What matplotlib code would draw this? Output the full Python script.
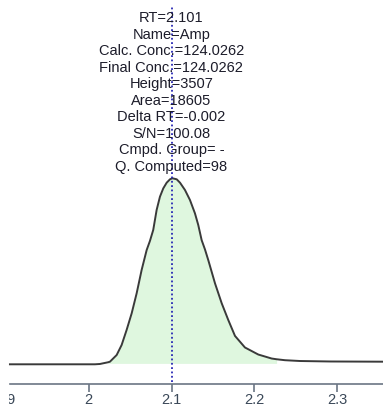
import matplotlib
matplotlib.use("Agg")
import matplotlib.pyplot as plt
from matplotlib.patches import Rectangle
import numpy as np

plt.rcParams['font.family'] = ['Liberation Sans', 'DejaVu Sans']

# Chromatogram trace: retention time (min) vs. intensity
rt_min = [1.9051, 2.0076, 2.0136, 2.0234, 2.0257, 2.0338, 2.0398, 2.0458,
          2.0519, 2.0579, 2.0639, 2.0700, 2.0739, 2.0779, 2.0820, 2.0860,
          2.0900, 2.0941, 2.0981, 2.1010, 2.1062, 2.1102, 2.1162, 2.1222,
          2.1282, 2.1322, 2.1363, 2.1403, 2.1443, 2.1524, 2.1605, 2.1684,
          2.1765, 2.1885, 2.2046, 2.2207, 2.2267, 2.2368, 2.2549, 2.2911,
          2.3550]
intensity = [0, 0, 6, 38, 49, 175, 364, 647,
             961, 1338, 1777, 2155, 2324, 2532, 2909, 3159,
             3316, 3423, 3487, 3507, 3487, 3423, 3285, 3097,
             2846, 2626, 2340, 2165, 1963, 1526, 1149, 835,
             535, 317, 184, 109, 95, 77, 62, 53,
             49]

# Integration window of the peak
peak_start = 2.0234
peak_end = 2.2267

# Peak annotation
peak_rt = 2.101
peak_info = [
    "RT=2.101",
    "Name=Amp",
    "Calc. Conc.=124.0262",
    "Final Conc.=124.0262",
    "Height=3507",
    "Area=18605",
    "Delta RT=-0.002",
    "S/N=100.08",
    "Cmpd. Group= -",
    "Q. Computed=98",
]

x_ticks = [1.9, 2.0, 2.1, 2.2, 2.3]
x_tick_labels = ["1.9", "2", "2.1", "2.2", "2.3"]

W, H = 383, 407
fig = plt.figure(figsize=(W / 100, H / 100), dpi=100)
ax_px_bottom = 383.5
ax = fig.add_axes([0, (H - ax_px_bottom) / H, 1, ax_px_bottom / H])

x = np.array(rt_min)
y = np.array(intensity)

mask = (x >= peak_start) & (x <= peak_end)
ax.fill_between(x[mask], 17, y[mask], color='#dff7df', linewidth=0, zorder=1)
ax.plot(x, y, color='#3a3a3a', lw=1.4, zorder=3, solid_joinstyle='round')

ax.axvline(peak_rt, ymin=0.004, ymax=0.982, color='#2828b4', lw=1.3,
           linestyle=(0, (1, 1.4)), zorder=4)

ax.set_xlim(1.8931, 2.3550)
ax.set_ylim(-362, 6867)

for s in ['top', 'right', 'left']:
    ax.spines[s].set_visible(False)
ax.spines['bottom'].set_color('#6b7684')
ax.spines['bottom'].set_linewidth(1.2)
ax.spines['bottom'].set_bounds(1.905, 2.3550)

ax.set_yticks([])
ax.set_xticks(x_ticks)
ax.set_xticklabels(x_tick_labels)
ax.tick_params(axis='x', length=5.8, width=1.2, color='#6b7684', pad=0.8,
               labelsize=10.5, labelcolor='#3a4858')

# The first tick sits left of the plotting area: hide its mark and clip its label
first_tick = ax.xaxis.get_major_ticks()[0]
first_tick.tick1line.set_visible(False)
clip_rect = Rectangle((9 / W, 0), 1, 1, transform=fig.transFigure)
first_tick.label1.set_clip_path(clip_rect)
first_tick.label1.set_clip_on(True)

line_gap_px = 16.5
first_px = 18.3
for i, txt in enumerate(peak_info):
    off_px = first_px + i * line_gap_px
    ax.annotate(txt, xy=(peak_rt, 1.0), xycoords=('data', 'axes fraction'),
                xytext=(-0.7, -off_px * 0.72), textcoords='offset points',
                ha='center', va='center', fontsize=10.5, color='#1c1c2a',
                zorder=5)

fig.savefig("out.png", dpi=100)
